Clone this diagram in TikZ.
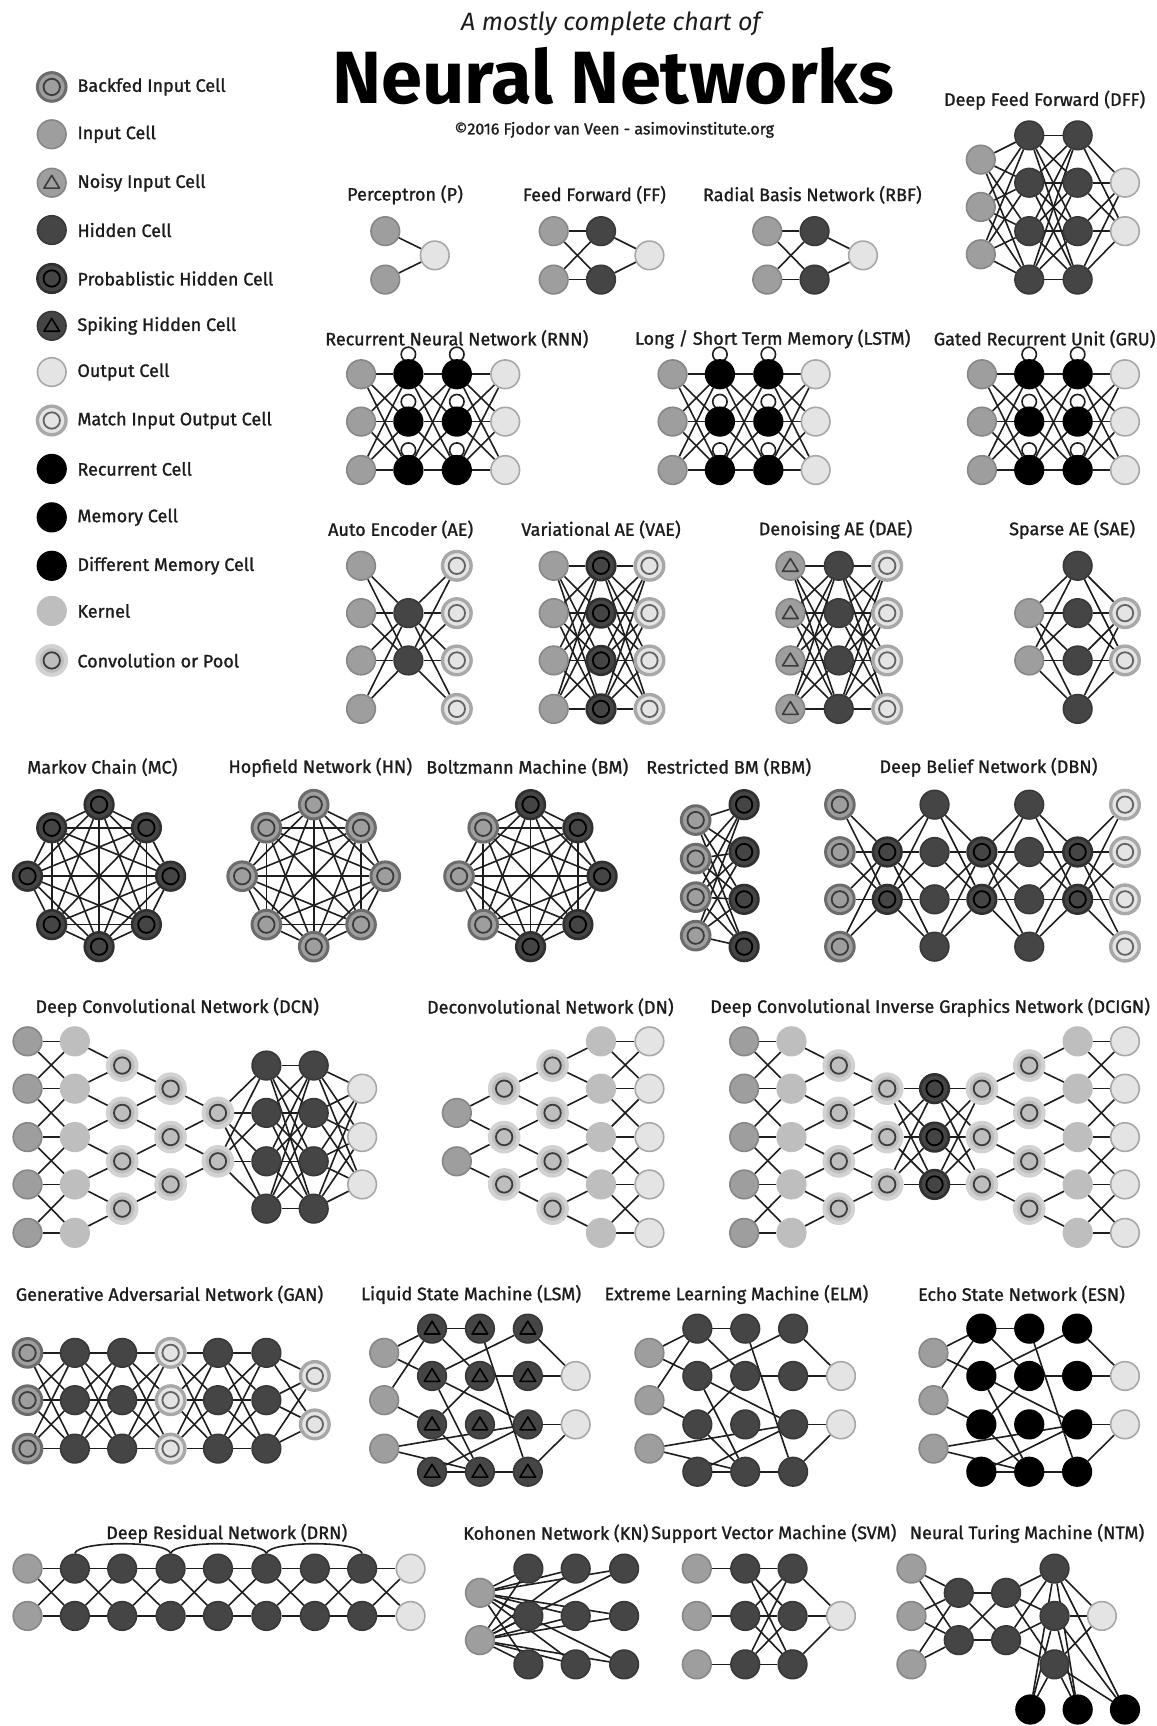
\documentclass[tikz,border=0pt]{standalone}
\usepackage{fontspec}
\setmainfont{Fira Sans}
\newfontfamily\labfont{Fira Sans}[FakeBold=1.2]
\usetikzlibrary{backgrounds}
\definecolor{cin}{HTML}{9E9E9E}
\definecolor{cinb}{HTML}{878787}
\definecolor{chid}{HTML}{454545}
\definecolor{chidb}{HTML}{383838}
\definecolor{cout}{HTML}{E4E4E4}
\definecolor{coutb}{HTML}{A8A8A8}
\definecolor{ckern}{HTML}{BEBEBE}
\definecolor{chalo}{HTML}{D2D2D2}
\definecolor{cring}{HTML}{3C3C3C}
\definecolor{cline}{HTML}{1E1E1E}
\definecolor{ctext}{HTML}{1C1C1C}
\tikzset{
  cs/.style={#1},
  cell/.style={circle,minimum size=14.3pt,inner sep=0pt,line width=0.8pt},
  inp/.style={cell,fill=cin,draw=cinb},
  hid/.style={cell,fill=chid,draw=chidb},
  outc/.style={cell,fill=cout,draw=coutb},
  rec/.style={cell,fill=black,draw=black},
  kern/.style={cell,fill=ckern,draw=ckern},
  ring/.style={path picture={\draw[line width=0.9pt,draw=#1] (path picture bounding box.center) circle (4.1pt);}},
  tri/.style={path picture={\draw[line width=0.8pt,draw=#1,line join=round,shift={(path picture bounding box.center)}] (0pt,3.7pt) -- (-3.9pt,-2.7pt) -- (3.9pt,-2.7pt) -- cycle;}},
  backfed/.style={inp,draw=cinb!80!black,line width=1.5pt,ring=cring},
  noisy/.style={inp,tri=cring},
  prob/.style={hid,draw=chid!70!black,line width=1.3pt,ring=black},
  spike/.style={hid,tri=black},
  match/.style={outc,line width=1.7pt,ring=cring!80},
  conv/.style={kern,draw=chalo,line width=2pt,ring=cring},
  ed/.style={draw=cline,line width=0.8pt},
  ttl/.style={font=\labfont\fontsize{9}{10}\selectfont,text=ctext,inner sep=0pt},
  lbl/.style={font=\labfont\fontsize{9}{10}\selectfont,text=ctext,inner sep=0pt,anchor=west},
}
% recurrent style nets
\newcommand\rnnet[5]{%
  \foreach \yy [count=\kk] in {340,383,427} {%
    \node[inp] (#1-a\kk) at (#2,\yy) {};
    \node[rec] (#1-b\kk) at (#3,\yy) {};
    \node[rec] (#1-c\kk) at (#4,\yy) {};
    \node[outc] (#1-d\kk) at (#5,\yy) {};
  }%
  \begin{scope}[on background layer]
    \foreach \ii in {1,2,3} {%
      \foreach \jj in {1,2,3} {%
        \draw[ed] (#1-a\ii) -- (#1-b\jj);
        \draw[ed] (#1-b\ii) -- (#1-c\jj);
        \draw[ed] (#1-c\ii) -- (#1-d\jj);
      }%
      \draw[ed] ([yshift=2.4pt]#1-b\ii.north) circle (3.6pt);
      \draw[ed] ([yshift=2.4pt]#1-c\ii.north) circle (3.6pt);
    }%
  \end{scope}}
% auto encoder style nets
\newcommand\aenet[6]{%
  \foreach \yy [count=\kk] in {514,557,600,644} {%
    \node[#5] (#1-a\kk) at (#2,\yy) {};
    \node[#6] (#1-b\kk) at (#3,\yy) {};
    \node[match] (#1-c\kk) at (#4,\yy) {};
  }%
  \begin{scope}[on background layer]
    \foreach \ii in {1,...,4} {\foreach \jj in {1,...,4} {%
      \draw[ed] (#1-a\ii) -- (#1-b\jj);
      \draw[ed] (#1-b\ii) -- (#1-c\jj);}}
  \end{scope}}
% octagon nets
\newcommand\octnet[3]{%
  \foreach \ss [count=\kk] in {#3} {%
    \pgfmathsetmacro\ddx{{0,-43,43,-65,65,-43,43,0}[\kk-1]}%
    \pgfmathsetmacro\ddy{{-65,-44,-44,0,0,44,44,64}[\kk-1]}%
    \node[cs/.expand once=\ss] (#1-n\kk) at (#2+\ddx,796+\ddy) {};
  }%
  \begin{scope}[on background layer]
    \foreach \ii in {1,...,8} {\foreach \jj in {1,...,8} {\ifnum\ii<\jj \draw[ed] (#1-n\ii) -- (#1-n\jj);\fi}}
  \end{scope}}
% reservoir style nets
\newcommand\rcnet[3]{%
  \foreach \yy [count=\kk] in {1229,1272,1316} \node[inp] (#1-i\kk) at (#2,\yy) {};
  \foreach \dd [count=\cc] in {43.5,87,130.5} {\foreach \yy [count=\rr] in {1207,1250,1294,1337} \node[#3] (#1-g\cc\rr) at (#2+\dd,\yy) {};}
  \foreach \yy [count=\kk] in {1250,1294} \node[outc] (#1-o\kk) at (#2+174,\yy) {};
  \begin{scope}[on background layer]
    \foreach \pp/\qq in {i1/g11,i1/g12,i2/g11,i2/g13,i3/g24,i3/g33,g11/g21,g11/g22,g21/g34,g31/g12,g31/o1,g12/g33,g12/g24,g22/g32,g32/o1,g13/g22,g13/g24,g33/o2,g34/o2,g14/g24,g24/g34,g14/g33}
      \draw[ed] (#1-\pp) -- (#1-\qq);
  \end{scope}}
\begin{document}
\begin{tikzpicture}[x=0.55pt,y=-0.55pt]
\useasboundingbox (0,0) rectangle (1051,1568);
\begin{scope}[on background layer]
\fill[white] (0,0) rectangle (1051,1568);
\end{scope}
% ---------------- header
\node[font=\itshape\fontsize{12.5}{14}\selectfont,text=ctext] (sub) at (555,22) {A mostly complete chart of};
\node[font=\bfseries\fontsize{37}{42}\selectfont,text=black] (title) at (557,69) {Neural Networks};
\node[font=\labfont\fontsize{8}{9}\selectfont,text=ctext] (copy) at (558,118) {©2016 Fjodor van Veen - asimovinstitute.org};
% ---------------- legend
\node[backfed] (L1) at (47,79) {};  \node[lbl] (L1t) at (70,79) {Backfed Input Cell};
\node[inp] (L2) at (47,122) {};     \node[lbl] (L2t) at (70,122) {Input Cell};
\node[noisy] (L3) at (47,166) {};   \node[lbl] (L3t) at (70,166) {Noisy Input Cell};
\node[hid] (L4) at (47,209) {};     \node[lbl] (L4t) at (70,209) {Hidden Cell};
\node[prob] (L5) at (47,253) {};    \node[lbl] (L5t) at (70,253) {Probablistic Hidden Cell};
\node[spike] (L6) at (47,296) {};   \node[lbl] (L6t) at (70,296) {Spiking Hidden Cell};
\node[outc] (L7) at (47,338) {};    \node[lbl] (L7t) at (70,338) {Output Cell};
\node[match] (L8) at (47,382) {};   \node[lbl] (L8t) at (70,382) {Match Input Output Cell};
\node[rec] (L9) at (47,426) {};     \node[lbl] (L9t) at (70,426) {Recurrent Cell};
\node[rec] (L10) at (47,470) {};    \node[lbl] (L10t) at (70,470) {Memory Cell};
\node[rec] (L11) at (47,514) {};    \node[lbl] (L11t) at (70,514) {Different Memory Cell};
\node[kern] (L12) at (47,555) {};   \node[lbl] (L12t) at (70,555) {Kernel};
\node[conv] (L13) at (47,600) {};   \node[lbl] (L13t) at (70,600) {Convolution or Pool};
% ---------------- Perceptron
\node[ttl] (P-t) at (368,177) {Perceptron (P)};
\node[inp] (P-i1) at (350,210) {};
\node[inp] (P-i2) at (350,254) {};
\node[outc] (P-o) at (395,232) {};
\begin{scope}[on background layer]
\draw[ed] (P-i1) -- (P-o); \draw[ed] (P-i2) -- (P-o);
\end{scope}
% ---------------- FF and RBF
\node[ttl] (FF-t) at (540,177) {Feed Forward (FF)};
\node[ttl] (RBF-t) at (738,177) {Radial Basis Network (RBF)};
\foreach \yy [count=\kk] in {210,254} {%
  \node[inp] (FF-i\kk) at (503,\yy) {}; \node[hid] (FF-h\kk) at (546,\yy) {};
  \node[inp] (RBF-i\kk) at (697,\yy) {}; \node[hid] (RBF-h\kk) at (740,\yy) {};}
\node[outc] (FF-o) at (590,232) {};
\node[outc] (RBF-o) at (784,232) {};
\begin{scope}[on background layer]
\foreach \nn in {FF,RBF} {\foreach \ii in {1,2} {\foreach \jj in {1,2} {\draw[ed] (\nn-i\ii) -- (\nn-h\jj);} \draw[ed] (\nn-h\ii) -- (\nn-o);}}
\end{scope}
% ---------------- DFF
\node[ttl] (DFF-t) at (949,91) {Deep Feed Forward (DFF)};
\foreach \yy [count=\kk] in {145,188,231} \node[inp] (DFF-a\kk) at (891,\yy) {};
\foreach \yy [count=\kk] in {123,166,210,254} {\node[hid] (DFF-b\kk) at (935,\yy) {}; \node[hid] (DFF-c\kk) at (979,\yy) {};}
\foreach \yy [count=\kk] in {166,210} \node[outc] (DFF-d\kk) at (1022,\yy) {};
\begin{scope}[on background layer]
\foreach \jj in {1,...,4} {%
  \foreach \ii in {1,2,3} \draw[ed] (DFF-a\ii) -- (DFF-b\jj);
  \foreach \ii in {1,...,4} \draw[ed] (DFF-b\ii) -- (DFF-c\jj);
  \foreach \ii in {1,2} \draw[ed] (DFF-c\jj) -- (DFF-d\ii);}
\end{scope}
% ---------------- RNN, LSTM, GRU
\node[ttl] (RNN-t) at (415,308) {Recurrent Neural Network (RNN)};
\node[ttl] (LSTM-t) at (702,308) {Long / Short Term Memory (LSTM)};
\node[ttl] (GRU-t) at (949,308) {Gated Recurrent Unit (GRU)};
\rnnet{RNN}{328}{371}{415}{459}
\rnnet{LSTM}{611}{654}{698}{741}
\rnnet{GRU}{892}{935}{979}{1022}
% ---------------- AE family
\node[ttl] (AE-t) at (364,481) {Auto Encoder (AE)};
\node[ttl] (VAE-t) at (546,481) {Variational AE (VAE)};
\node[ttl] (DAE-t) at (759,481) {Denoising AE (DAE)};
\node[ttl] (SAE-t) at (974,481) {Sparse AE (SAE)};
\foreach \yy [count=\kk] in {514,557,600,644} {\node[inp] (AE-a\kk) at (328,\yy) {}; \node[match] (AE-c\kk) at (415,\yy) {};}
\foreach \yy [count=\kk] in {557,600} \node[hid] (AE-b\kk) at (371,\yy) {};
\begin{scope}[on background layer]
\foreach \ii in {1,...,4} {\foreach \jj in {1,2} {\draw[ed] (AE-a\ii) -- (AE-b\jj); \draw[ed] (AE-b\jj) -- (AE-c\ii);}}
\end{scope}
\aenet{VAE}{503}{546}{590}{inp}{prob}
\aenet{DAE}{718}{762}{806}{noisy}{hid}
\foreach \yy [count=\kk] in {557,600} {\node[inp] (SAE-a\kk) at (935,\yy) {}; \node[match] (SAE-c\kk) at (1022,\yy) {};}
\foreach \yy [count=\kk] in {514,557,600,644} \node[hid] (SAE-b\kk) at (979,\yy) {};
\begin{scope}[on background layer]
\foreach \ii in {1,2} {\foreach \jj in {1,...,4} {\draw[ed] (SAE-a\ii) -- (SAE-b\jj); \draw[ed] (SAE-b\jj) -- (SAE-c\ii);}}
\end{scope}
% ---------------- MC, HN, BM
\node[ttl] (MC-t) at (93,697) {Markov Chain (MC)};
\node[ttl] (HN-t) at (291,697) {Hopfield Network (HN)};
\node[ttl] (BM-t) at (479,697) {Boltzmann Machine (BM)};
\octnet{MC}{90}{prob,prob,prob,prob,prob,prob,prob,prob}
\octnet{HN}{285}{backfed,backfed,backfed,backfed,backfed,backfed,backfed,backfed}
\octnet{BM}{482}{prob,backfed,prob,backfed,prob,backfed,prob,prob}
% ---------------- RBM
\node[ttl] (RBM-t) at (662,697) {Restricted BM (RBM)};
\foreach \yy [count=\kk] in {745,780,815,850} \node[backfed] (RBM-a\kk) at (632,\yy) {};
\foreach \yy [count=\kk] in {731,774,817,860} \node[prob] (RBM-b\kk) at (676,\yy) {};
\begin{scope}[on background layer]
\foreach \ii in {1,...,4} {\foreach \jj in {1,...,4} {\draw[ed] (RBM-a\ii) -- (RBM-b\jj);}}
\end{scope}
% ---------------- DBN
\node[ttl] (DBN-t) at (898,697) {Deep Belief Network (DBN)};
\foreach \yy [count=\kk] in {731,774,817,860} {%
  \node[backfed] (DBN-a\kk) at (763,\yy) {}; \node[hid] (DBN-c\kk) at (849,\yy) {};
  \node[hid] (DBN-e\kk) at (935,\yy) {}; \node[match] (DBN-g\kk) at (1022,\yy) {};}
\foreach \yy [count=\kk] in {774,817} {%
  \node[prob] (DBN-b\kk) at (806,\yy) {}; \node[prob] (DBN-d\kk) at (892,\yy) {}; \node[prob] (DBN-f\kk) at (979,\yy) {};}
\begin{scope}[on background layer]
\foreach \ii in {1,...,4} {\foreach \jj in {1,2} {%
  \draw[ed] (DBN-a\ii) -- (DBN-b\jj); \draw[ed] (DBN-b\jj) -- (DBN-c\ii);
  \draw[ed] (DBN-c\ii) -- (DBN-d\jj); \draw[ed] (DBN-d\jj) -- (DBN-e\ii);
  \draw[ed] (DBN-e\ii) -- (DBN-f\jj); \draw[ed] (DBN-f\jj) -- (DBN-g\ii);}}
\end{scope}
% ---------------- DCN
\node[ttl] (DCN-t) at (161,915) {Deep Convolutional Network (DCN)};
\foreach \yy [count=\kk] in {946,989,1033,1076,1120} {\node[inp] (DCN-a\kk) at (25,\yy) {}; \node[kern] (DCN-b\kk) at (68,\yy) {};}
\foreach \yy [count=\kk] in {968,1011,1055,1098} {\node[conv] (DCN-c\kk) at (111,\yy) {}; \node[hid] (DCN-f\kk) at (242,\yy) {}; \node[hid] (DCN-g\kk) at (285,\yy) {};}
\foreach \yy [count=\kk] in {989,1033,1076} {\node[conv] (DCN-d\kk) at (155,\yy) {}; \node[outc] (DCN-h\kk) at (329,\yy) {};}
\foreach \yy [count=\kk] in {1011,1055} \node[conv] (DCN-e\kk) at (198,\yy) {};
\begin{scope}[on background layer]
\foreach \ii in {1,...,5} \draw[ed] (DCN-a\ii) -- (DCN-b\ii);
\foreach \ii in {1,...,4} {\pgfmathtruncatemacro\nx{\ii+1}%
  \draw[ed] (DCN-a\ii) -- (DCN-b\nx); \draw[ed] (DCN-a\nx) -- (DCN-b\ii);
  \draw[ed] (DCN-b\ii) -- (DCN-c\ii); \draw[ed] (DCN-b\nx) -- (DCN-c\ii);}
\foreach \ii in {1,2,3} {\pgfmathtruncatemacro\nx{\ii+1}\draw[ed] (DCN-c\ii) -- (DCN-d\ii); \draw[ed] (DCN-c\nx) -- (DCN-d\ii);}
\foreach \ii in {1,2} {\pgfmathtruncatemacro\nx{\ii+1}\draw[ed] (DCN-d\ii) -- (DCN-e\ii); \draw[ed] (DCN-d\nx) -- (DCN-e\ii);}
\foreach \ii in {1,...,4} {%
  \foreach \jj in {1,2} \draw[ed] (DCN-e\jj) -- (DCN-f\ii);
  \foreach \jj in {1,...,4} \draw[ed] (DCN-f\ii) -- (DCN-g\jj);
  \foreach \jj in {1,2,3} \draw[ed] (DCN-g\ii) -- (DCN-h\jj);}
\end{scope}
% ---------------- DN
\node[ttl] (DN-t) at (500,915) {Deconvolutional Network (DN)};
\foreach \yy [count=\kk] in {1011,1055} \node[inp] (DN-a\kk) at (415,\yy) {};
\foreach \yy [count=\kk] in {989,1033,1076} \node[conv] (DN-b\kk) at (458,\yy) {};
\foreach \yy [count=\kk] in {968,1011,1055,1098} \node[conv] (DN-c\kk) at (502,\yy) {};
\foreach \yy [count=\kk] in {946,989,1033,1076,1120} {\node[kern] (DN-d\kk) at (546,\yy) {}; \node[outc] (DN-e\kk) at (590,\yy) {};}
\begin{scope}[on background layer]
\foreach \ii in {1,2} {\pgfmathtruncatemacro\nx{\ii+1}\draw[ed] (DN-a\ii) -- (DN-b\ii); \draw[ed] (DN-a\ii) -- (DN-b\nx);}
\foreach \ii in {1,2,3} {\pgfmathtruncatemacro\nx{\ii+1}\draw[ed] (DN-b\ii) -- (DN-c\ii); \draw[ed] (DN-b\ii) -- (DN-c\nx);}
\foreach \ii in {1,...,4} {\pgfmathtruncatemacro\nx{\ii+1}\draw[ed] (DN-c\ii) -- (DN-d\ii); \draw[ed] (DN-c\ii) -- (DN-d\nx);
  \draw[ed] (DN-d\ii) -- (DN-e\nx); \draw[ed] (DN-d\nx) -- (DN-e\ii);}
\foreach \ii in {1,...,5} \draw[ed] (DN-d\ii) -- (DN-e\ii);
\end{scope}
% ---------------- DCIGN
\node[ttl] (DCIGN-t) at (845,915) {Deep Convolutional Inverse Graphics Network (DCIGN)};
\foreach \yy [count=\kk] in {946,989,1033,1076,1120} {%
  \node[inp] (DCIGN-a\kk) at (676,\yy) {}; \node[kern] (DCIGN-b\kk) at (719,\yy) {};
  \node[kern] (DCIGN-h\kk) at (979,\yy) {}; \node[outc] (DCIGN-k\kk) at (1022,\yy) {};}
\foreach \yy [count=\kk] in {968,1011,1055,1098} {\node[conv] (DCIGN-c\kk) at (762,\yy) {}; \node[conv] (DCIGN-g\kk) at (935,\yy) {};}
\foreach \yy [count=\kk] in {989,1033,1076} {\node[conv] (DCIGN-d\kk) at (806,\yy) {}; \node[prob] (DCIGN-e\kk) at (849,\yy) {}; \node[conv] (DCIGN-f\kk) at (892,\yy) {};}
\begin{scope}[on background layer]
\foreach \ii in {1,...,5} {\draw[ed] (DCIGN-a\ii) -- (DCIGN-b\ii); \draw[ed] (DCIGN-h\ii) -- (DCIGN-k\ii);}
\foreach \ii in {1,...,4} {\pgfmathtruncatemacro\nx{\ii+1}%
  \draw[ed] (DCIGN-a\ii) -- (DCIGN-b\nx); \draw[ed] (DCIGN-a\nx) -- (DCIGN-b\ii);
  \draw[ed] (DCIGN-h\ii) -- (DCIGN-k\nx); \draw[ed] (DCIGN-h\nx) -- (DCIGN-k\ii);
  \draw[ed] (DCIGN-b\ii) -- (DCIGN-c\ii); \draw[ed] (DCIGN-b\nx) -- (DCIGN-c\ii);
  \draw[ed] (DCIGN-g\ii) -- (DCIGN-h\ii); \draw[ed] (DCIGN-g\ii) -- (DCIGN-h\nx);}
\foreach \ii in {1,2,3} {\pgfmathtruncatemacro\nx{\ii+1}%
  \draw[ed] (DCIGN-c\ii) -- (DCIGN-d\ii); \draw[ed] (DCIGN-c\nx) -- (DCIGN-d\ii);
  \draw[ed] (DCIGN-f\ii) -- (DCIGN-g\ii); \draw[ed] (DCIGN-f\ii) -- (DCIGN-g\nx);
  \foreach \jj in {1,2,3} {\draw[ed] (DCIGN-d\ii) -- (DCIGN-e\jj); \draw[ed] (DCIGN-e\ii) -- (DCIGN-f\jj);}}
\end{scope}
% ---------------- GAN
\node[ttl] (GAN-t) at (154,1176) {Generative Adversarial Network (GAN)};
\foreach \yy [count=\kk] in {1229,1272,1316} {%
  \node[backfed] (GAN-a\kk) at (25,\yy) {}; \node[hid] (GAN-b\kk) at (68,\yy) {};
  \node[hid] (GAN-c\kk) at (111,\yy) {}; \node[match] (GAN-d\kk) at (155,\yy) {};
  \node[hid] (GAN-e\kk) at (198,\yy) {}; \node[hid] (GAN-f\kk) at (242,\yy) {};}
\foreach \yy [count=\kk] in {1250,1294} \node[match] (GAN-g\kk) at (286,\yy) {};
\begin{scope}[on background layer]
\foreach \ii in {1,2,3} {\foreach \jj in {1,2,3} {%
  \draw[ed] (GAN-a\ii) -- (GAN-b\jj); \draw[ed] (GAN-b\ii) -- (GAN-c\jj);
  \draw[ed] (GAN-c\ii) -- (GAN-d\jj); \draw[ed] (GAN-d\ii) -- (GAN-e\jj);
  \draw[ed] (GAN-e\ii) -- (GAN-f\jj);}
  \foreach \jj in {1,2} \draw[ed] (GAN-f\ii) -- (GAN-g\jj);}
\end{scope}
% ---------------- LSM, ELM, ESN
\node[ttl] (LSM-t) at (428,1176) {Liquid State Machine (LSM)};
\node[ttl] (ELM-t) at (669,1176) {Extreme Learning Machine (ELM)};
\node[ttl] (ESN-t) at (928,1176) {Echo State Network (ESN)};
\rcnet{LSM}{349}{spike}
\rcnet{ELM}{590}{hid}
\rcnet{ESN}{848}{rec}
% ---------------- DRN
\node[ttl] (DRN-t) at (206,1393) {Deep Residual Network (DRN)};
\foreach \yy [count=\kk] in {1425,1468} {%
  \node[inp] (DRN-a\kk) at (25,\yy) {};
  \node[outc] (DRN-o\kk) at (373,\yy) {};
  \foreach \xx [count=\cc] in {68,111,155,198,242,286,329} \node[hid] (DRN-h\cc-\kk) at (\xx,\yy) {};}
\begin{scope}[on background layer]
\foreach \ii in {1,2} {\foreach \jj in {1,2} {%
  \draw[ed] (DRN-a\ii) -- (DRN-h1-\jj);
  \draw[ed] (DRN-h7-\ii) -- (DRN-o\jj);
  \foreach \cc in {1,...,6} {\pgfmathtruncatemacro\nx{\cc+1}\draw[ed] (DRN-h\cc-\ii) -- (DRN-h\nx-\jj);}}}
\draw[ed] (DRN-h1-1.north) .. controls +(1.5pt,6.5pt) and +(-1.5pt,6.5pt) .. (DRN-h3-1.north);
\draw[ed] (DRN-h3-1.north) .. controls +(1.5pt,6.5pt) and +(-1.5pt,6.5pt) .. (DRN-h5-1.north);
\draw[ed] (DRN-h5-1.north) .. controls +(1.5pt,6.5pt) and +(-1.5pt,6.5pt) .. (DRN-h7-1.north);
\end{scope}
% ---------------- KN
\node[ttl] (KN-t) at (505,1393) {Kohonen Network (KN)};
\foreach \yy [count=\kk] in {1447,1490} \node[inp] (KN-i\kk) at (436,\yy) {};
\foreach \xx [count=\cc] in {480,523,567} {\foreach \yy [count=\rr] in {1425,1468,1512} \node[hid] (KN-g\cc\rr) at (\xx,\yy) {};}
\begin{scope}[on background layer]
\foreach \ii in {1,2} {\foreach \cc in {1,2,3} {\foreach \rr in {1,2,3} \draw[ed] (KN-i\ii) -- (KN-g\cc\rr);}}
\end{scope}
% ---------------- SVM
\node[ttl] (SVM-t) at (703,1393) {Support Vector Machine (SVM)};
\foreach \yy [count=\kk] in {1425,1468,1512} {\node[inp] (SVM-i\kk) at (633,\yy) {}; \node[hid] (SVM-a\kk) at (677,\yy) {}; \node[hid] (SVM-b\kk) at (720,\yy) {};}
\node[outc] (SVM-o) at (764,1468) {};
\begin{scope}[on background layer]
\foreach \ii in {1,2,3} {\draw[ed] (SVM-i\ii) -- (SVM-a\ii); \draw[ed] (SVM-b\ii) -- (SVM-o);
  \foreach \jj in {1,2,3} \draw[ed] (SVM-a\ii) -- (SVM-b\jj);}
\end{scope}
% ---------------- NTM
\node[ttl] (NTM-t) at (933,1393) {Neural Turing Machine (NTM)};
\foreach \yy [count=\kk] in {1425,1468,1512} {\node[inp] (NTM-i\kk) at (828,\yy) {}; \node[hid] (NTM-c\kk) at (958,\yy) {};}
\foreach \yy [count=\kk] in {1447,1490} {\node[hid] (NTM-a\kk) at (871,\yy) {}; \node[hid] (NTM-b\kk) at (914,\yy) {};}
\node[outc] (NTM-o) at (1001,1468) {};
\foreach \xx [count=\kk] in {936,979,1022} \node[rec] (NTM-m\kk) at (\xx,1553) {};
\begin{scope}[on background layer]
\foreach \ii in {1,2,3} {%
  \foreach \jj in {1,2} {\draw[ed] (NTM-i\ii) -- (NTM-a\jj); \draw[ed] (NTM-b\jj) -- (NTM-c\ii);}
  \draw[ed] (NTM-c\ii) -- (NTM-o);
  \foreach \jj in {1,2,3} \draw[ed] (NTM-c\ii) -- (NTM-m\jj);}
\foreach \ii in {1,2} {\foreach \jj in {1,2} \draw[ed] (NTM-a\ii) -- (NTM-b\jj);}
\end{scope}
\end{tikzpicture}
\end{document}
